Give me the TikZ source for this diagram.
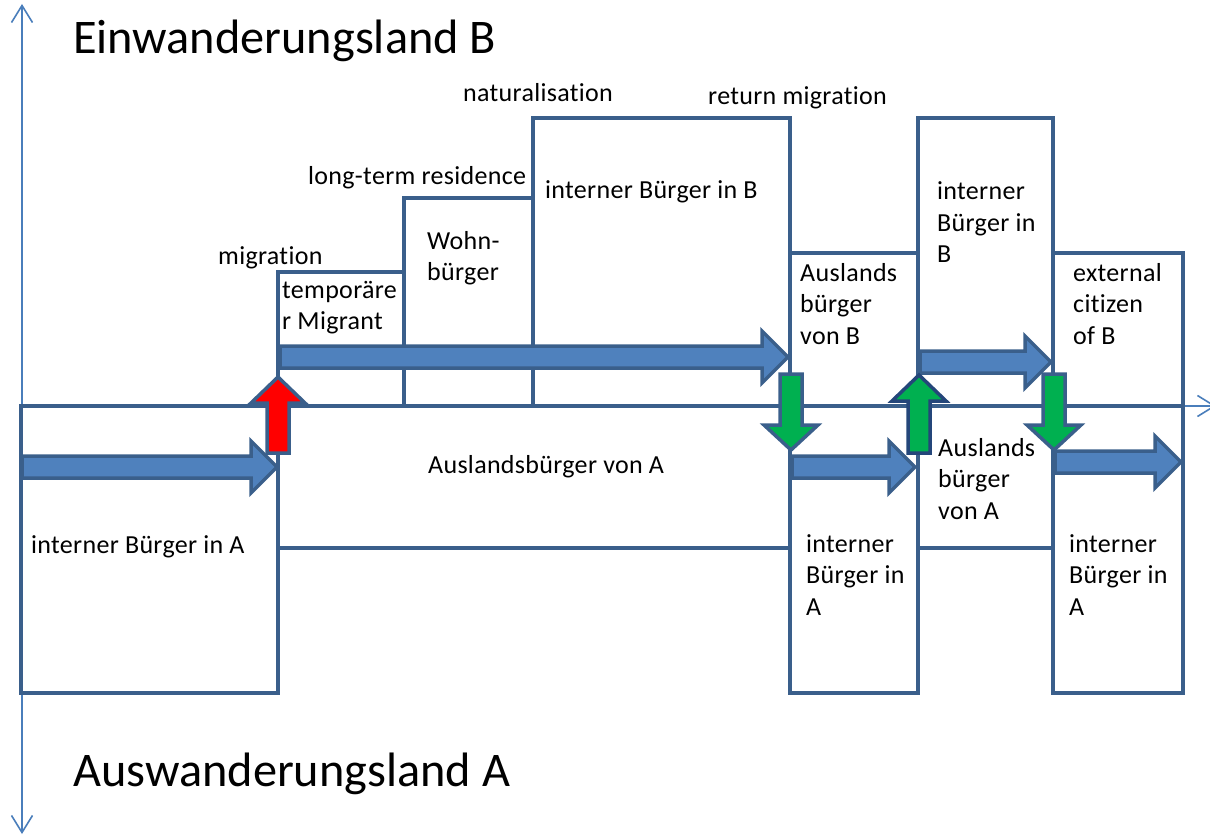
\documentclass[tikz,border=0pt]{standalone}
\usepackage{fontspec}
\setmainfont[Ligatures=NoCommon]{Carlito}
\usetikzlibrary{arrows.meta}
\definecolor{boxblue}{HTML}{3A5F8B}
\definecolor{fillblue}{HTML}{4F81BD}
\definecolor{axisblue}{HTML}{4A7EBB}
\definecolor{grn}{HTML}{00B050}
\definecolor{darknavy}{HTML}{24467A}
\newfontfamily\lblfont[LetterSpace=1.2,Ligatures=NoCommon]{Carlito}
\tikzset{
  box/.style={draw=boxblue, line width=4pt, rectangle, inner sep=0pt, outer sep=0pt, anchor=north west},
  lbl/.style={anchor=base west, inner sep=0pt, font=\lblfont\fontsize{26}{31.5}\selectfont},
  bigtitle/.style={anchor=base west, inner sep=0pt, font=\fontsize{48.3}{52}\selectfont},
  axisline/.style={draw=axisblue, line width=1.6pt, arrows={-Straight Barb[length=17pt,width=21pt,line width=1.6pt]}},
  flowarrow/.style={draw=boxblue, line width=3.5pt, fill=fillblue, line join=miter},
  redarrow/.style={draw=boxblue, line width=3.5pt, fill=red, line join=miter},
  greenarrow/.style={draw=boxblue, line width=3.5pt, fill=grn, line join=miter},
  greenarrowdark/.style={draw=darknavy, line width=3.5pt, fill=grn, line join=miter},
}
% horizontal block arrow: style, x start, x tip, y centre
\newcommand\rblock[4]{%
  \draw[#1] (#2,#4-11) -- (#3-26,#4-11) -- (#3-26,#4-26) -- (#3,#4)
    -- (#3-26,#4+26) -- (#3-26,#4+11) -- (#2,#4+11) -- cycle;}
% vertical block arrow: style, x centre, y start, y tip
\newcommand\vblockdown[4]{%
  \draw[#1] (#2-11,#3) -- (#2+11,#3) -- (#2+11,#4-25) -- (#2+27,#4-25)
    -- (#2,#4) -- (#2-27,#4-25) -- (#2-11,#4-25) -- cycle;}
\newcommand\vblockup[4]{%
  \draw[#1] (#2-11,#3) -- (#2+11,#3) -- (#2+11,#4+26) -- (#2+27,#4+26)
    -- (#2,#4) -- (#2-27,#4+26) -- (#2-11,#4+26) -- cycle;}
\begin{document}
\begin{tikzpicture}[x=1pt,y=-1pt]
\useasboundingbox (0,0) rectangle (1210,837);
\clip (0,0) rectangle (1210,837);
% axes
\coordinate (origin) at (22,406);
\coordinate (ytop) at (22,4);
\coordinate (ybot) at (22,834);
\coordinate (xend) at (1216,406);
\draw[axisline] (origin) -- (ytop);
\draw[axisline] (origin) -- (ybot);
\draw[axisline] (origin) -- (xend);
% boxes
\node[box, minimum width=257pt, minimum height=287pt] (b1) at (21,406) {};
\node[box, minimum width=512pt, minimum height=142pt] (b2) at (278,406) {};
\node[box, minimum width=126pt, minimum height=134pt] (b3) at (278,272) {};
\node[box, minimum width=129pt, minimum height=208pt] (b4) at (404,198) {};
\node[box, minimum width=257pt, minimum height=288pt] (b5) at (533,118) {};
\node[box, minimum width=128pt, minimum height=153pt] (b6) at (790,253) {};
\node[box, minimum width=128pt, minimum height=287pt] (b7) at (790,406) {};
\node[box, minimum width=135pt, minimum height=288pt] (b8) at (918,118) {};
\node[box, minimum width=135pt, minimum height=142pt] (b9) at (918,406) {};
\node[box, minimum width=130pt, minimum height=153pt] (b10) at (1053,253) {};
\node[box, minimum width=130pt, minimum height=287pt] (b11) at (1053,406) {};
% titles
\node[bigtitle] (tB) at (73,54) {Einwanderungsland B};
\node[bigtitle] (tA) at (73,786) {Auswanderungsland A};
% transition labels
\node[lbl] (lnat) at (463,102) {naturalisation};
\node[lbl] (lret) at (708,105) {return migration};
\node[lbl] (llong) at (308,185) {long-term residence};
\node[lbl] (lmig) at (218,264) {migration};
% box labels
\node[lbl] (t3) at (282,298) {\begin{tabular}[t]{@{}l@{}}temporäre\\r Migrant\end{tabular}};
\node[lbl] (t4) at (427,249) {\begin{tabular}[t]{@{}l@{}}Wohn-\\bürger\end{tabular}};
\node[lbl] (t5) at (545,199) {interner Bürger in B};
\node[lbl] (t6) at (800,281) {\begin{tabular}[t]{@{}l@{}}Auslands\\bürger\\von B\end{tabular}};
\node[lbl] (t8) at (937,200) {\begin{tabular}[t]{@{}l@{}}interner\\Bürger in\\B\end{tabular}};
\node[lbl] (t10) at (1073,281) {\begin{tabular}[t]{@{}l@{}}external\\citizen\\of B\end{tabular}};
\node[lbl] (t2) at (428,473) {Auslandsbürger von A};
\node[lbl] (t1) at (31,553) {interner Bürger in A};
\node[lbl] (t7) at (806,552) {\begin{tabular}[t]{@{}l@{}}interner\\Bürger in\\A\end{tabular}};
\node[lbl] (t9) at (938,456) {\begin{tabular}[t]{@{}l@{}}Auslands\\bürger\\von A\end{tabular}};
\node[lbl] (t11) at (1069,552) {\begin{tabular}[t]{@{}l@{}}interner\\Bürger in\\A\end{tabular}};
% flow arrows
\vblockup{redarrow}{278}{453}{377}
\rblock{flowarrow}{22}{277}{467}
\rblock{flowarrow}{280}{788}{357}
\vblockdown{greenarrow}{791}{374}{450}
\rblock{flowarrow}{792}{915}{467}
\rblock{flowarrow}{920}{1051}{362}
\rblock{flowarrow}{1055}{1181}{462}
\vblockup{greenarrowdark}{919}{453}{375}
\vblockdown{greenarrow}{1054}{374}{450}
\end{tikzpicture}
\end{document}
